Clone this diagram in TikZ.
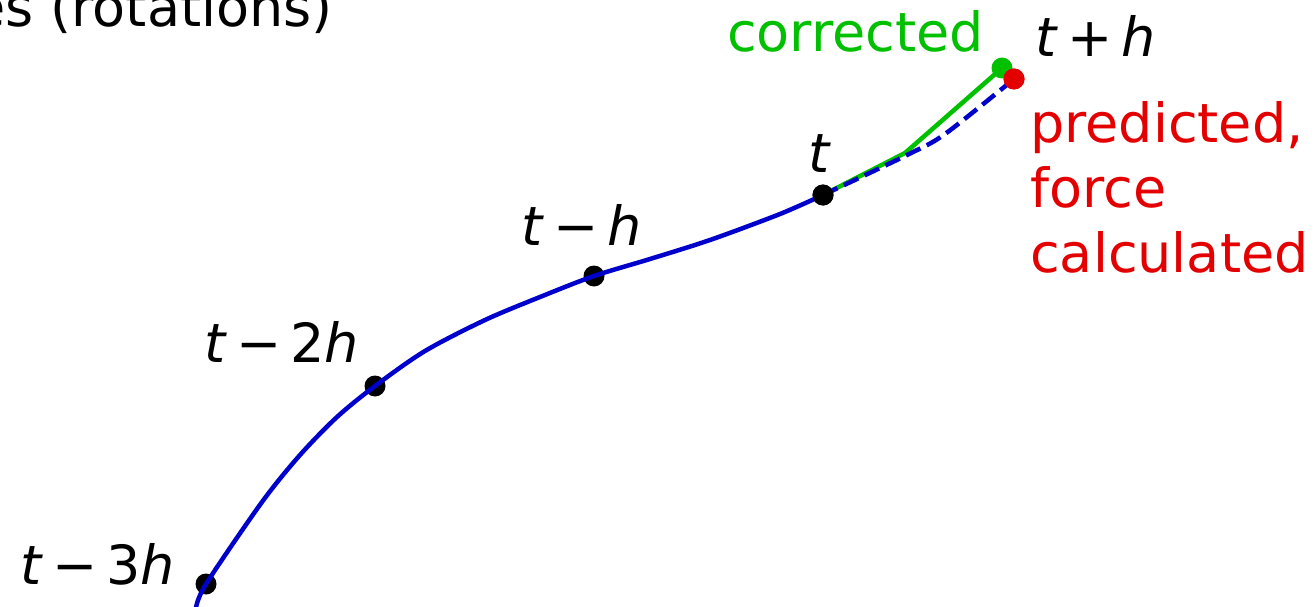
\documentclass[tikz,border=0pt]{standalone}
\usepackage{fontspec}
\setmainfont{DejaVu Sans}
\definecolor{cblue}{RGB}{0,0,204}
\definecolor{cgreen}{RGB}{0,192,0}
\definecolor{cred}{RGB}{228,0,0}
\newcommand{\mv}[1]{\textit{#1}}
\newcommand{\mop}[1]{\hspace{0.17em}#1\hspace{0.17em}}
\begin{document}
\begin{tikzpicture}[x=1pt,y=-1pt,
  dot/.style={circle,inner sep=0pt,minimum size=21pt,fill=#1},
  lbl/.style={anchor=base west,inner sep=0pt,font=\fontsize{54}{65}\selectfont},
  curve/.style={line width=4.5pt,cblue},
]
\useasboundingbox (0,0) rectangle (1314,607);
% points
\node[dot=black] (p3) at (206,584) {};
\node[dot=black] (p2) at (375,386) {};
\node[dot=black] (p1) at (594,276) {};
\node[dot=black] (p0) at (823,195) {};
\coordinate (s) at (196,608);
\coordinate (q) at (905,153);
\coordinate (r) at (907,155);
\coordinate (r2) at (945,134);
% title fragment
\node[lbl,anchor=base east] (title) at (333,27) {es (rotations)};
% trajectory
\draw[curve] plot[smooth] coordinates {(s) (p3.center) (262,502) (300,455) (337,417) (p2.center) (425,351) (485,320) (540,297) (p1.center) (650,259) (710,240) (780,214) (p0.center)};
% corrected path
\node[dot=cgreen] (c) at (1002,68) {};
\draw[line width=4.5pt,cgreen] (p0.center) -- (q) -- (c.center);
% predicted path
\node[dot=cred] (pr) at (1014,79) {};
\draw[line width=4.5pt,cblue,dash pattern=on 16pt off 7pt] plot[smooth] coordinates {(p0.center) (r) (r2) (pr.center)};
\node[dot=cred] at (pr) {};
\node[dot=black] at (p0) {};
% labels
\node[lbl,text=cgreen] (lc) at (727,52) {corrected};
\node[lbl] (lth) at (1035,57) {\mv{t}\mop{+}\mv{h}};
\node[lbl,text=cred,align=left,anchor=north west] (lp) at (1030,101) {predicted,\\force\\calculated};
\node[lbl] (lt) at (808,172) {\mv{t}};
\node[lbl] (lt1) at (521,245) {\mv{t}\mop{−}\mv{h}};
\node[lbl] (lt2) at (204,362) {\mv{t}\mop{−}2\mv{h}};
\node[lbl] (lt3) at (20,584) {\mv{t}\mop{−}3\mv{h}};
\end{tikzpicture}
\end{document}
